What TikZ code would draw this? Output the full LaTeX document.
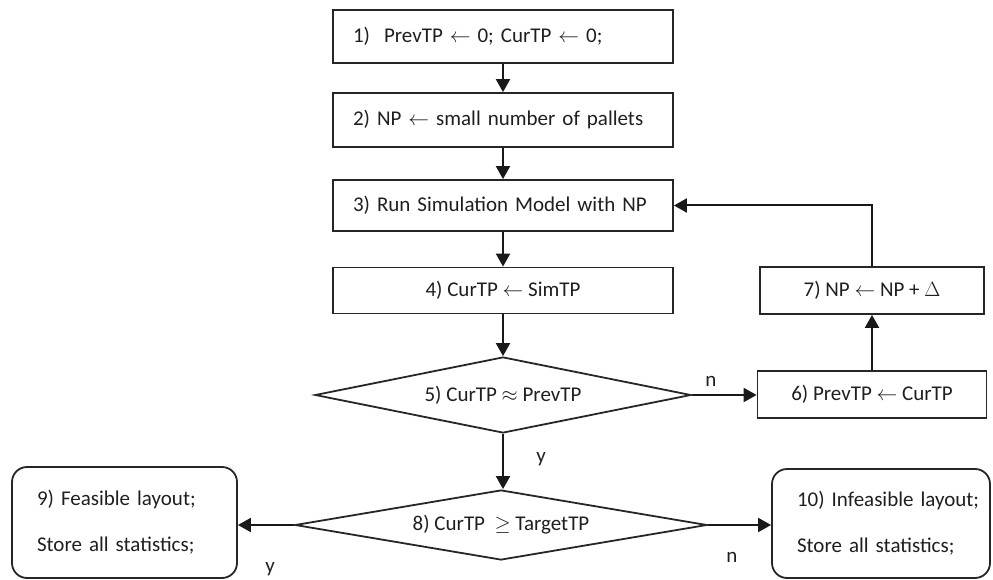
\documentclass[tikz,border=0pt]{standalone}
\usepackage{fontspec}
\setmainfont{Carlito}
\usetikzlibrary{arrows.meta,shapes.geometric}
\newcommand{\lar}{\ensuremath{\leftarrow}}
\begin{document}
\begin{tikzpicture}[x=1pt,y=-1pt,
  font=\fontsize{21}{25}\selectfont,
  every node/.style={text=black!88},
  stepbox/.style={draw=black!85, line width=1.8pt, rectangle, inner sep=0pt},
  leftbox/.style={stepbox, minimum width=340pt, text width=300pt, inner xsep=20pt, align=left},
  endbox/.style={draw=black!85, line width=1.8pt, rectangle, rounded corners=15pt, inner ysep=0pt, inner xsep=25pt, align=left},
  decide/.style={draw=black!85, line width=1.8pt, diamond, inner sep=0pt},
  conn/.style={line width=2pt, draw=black!90, -{Triangle[length=13pt,width=14pt]}},
  lbl/.style={inner sep=0pt}
]
\useasboundingbox (0,0) rectangle (993,580);

\node[leftbox, minimum height=53pt] (b1) at (503,36.5) {1)\ \ PrevTP \lar{} 0; CurTP \lar{} 0;};
\node[leftbox, minimum height=54pt] (b2) at (503,120) {2) NP \lar{} small number of pallets};
\node[leftbox, minimum height=51pt] (b3) at (503,205.5) {3) Run Simulation Model with NP};
\node[stepbox, minimum width=340pt, minimum height=46pt] (b4) at (503,290.5) {4) CurTP \lar{} SimTP};
\node[decide, aspect=4.95, minimum width=376pt, minimum height=76pt] (d5) at (503,395) {5) CurTP \ensuremath{\approx} PrevTP};
\node[stepbox, minimum width=229pt, minimum height=47pt] (b6) at (872,394.5) {6) PrevTP \lar{} CurTP};
\node[stepbox, minimum width=224pt, minimum height=47pt] (b7) at (872,290.5) {7) NP \lar{} NP + \ensuremath{\Delta}};
\node[decide, aspect=5.9, minimum width=412pt, minimum height=70pt] (d8) at (501,525) {8) CurTP\ \ \ensuremath{\geq} TargetTP};
\node[endbox, minimum width=225pt, minimum height=111pt, text width=175pt] (b9) at (124.5,522.5)
  {9) Feasible layout;\\[21pt]Store all statistics;};
\node[endbox, minimum width=218pt, minimum height=109pt, text width=168pt] (b10) at (881,523.5)
  {\mbox{10) Infeasible layout;}\\[21pt]Store all statistics;};

\draw[conn] (b1) -- (b2);
\draw[conn] (b2) -- (b3);
\draw[conn] (b3) -- (b4);
\draw[conn] (b4) -- (d5);
\draw[conn] (d5.east) -- (d5.east -| b6.west);
\draw[conn] (b6) -- (b7);
\draw[conn] (b7.north) |- (b3.east);
\draw[conn] (d5.south) -- (d5.south |- d8.north);
\draw[conn] (d8.west) -- (d8.west -| b9.east);
\draw[conn] (d8.east) -- (d8.east -| b10.west);

\node[lbl] (ln1) at (711,381) {n};
\node[lbl] (ly1) at (541,459) {y};
\node[lbl] (ly2) at (270,569) {y};
\node[lbl] (ln2) at (732,557) {n};
\end{tikzpicture}
\end{document}
